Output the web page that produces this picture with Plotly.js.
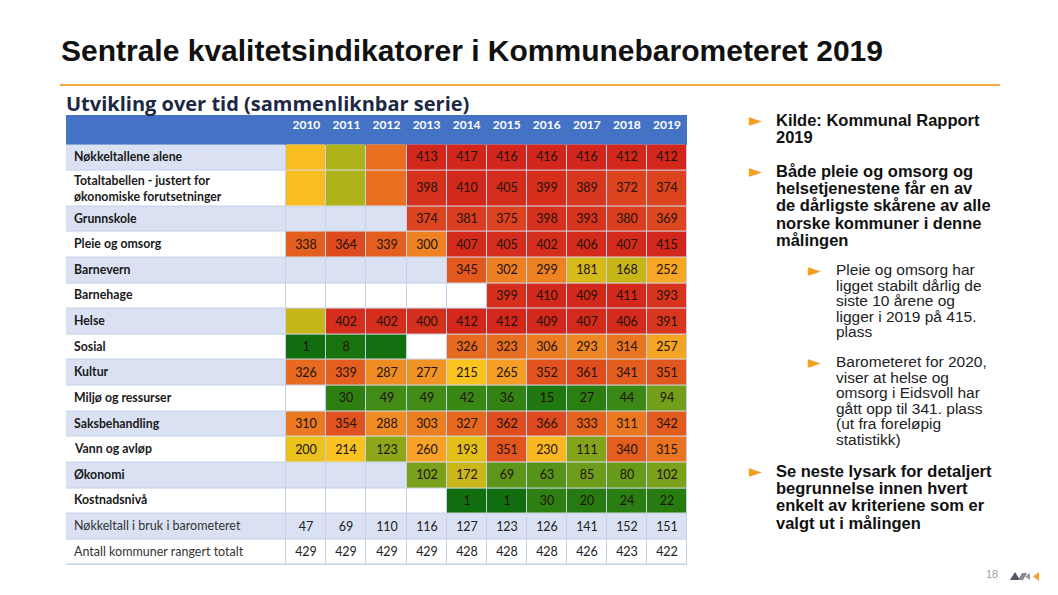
<!DOCTYPE html>
<html>
<head>
<meta charset="utf-8">
<script src="https://cdn.plot.ly/plotly-3.0.1.min.js"></script>
<style>html,body{margin:0;padding:0;background:#fff;}#chart{width:1058px;height:595px;}</style>
</head>
<body>
<div id="chart"></div>
<script>
// ---------------- DATA ----------------
const years = ['2010','2011','2012','2013','2014','2015','2016','2017','2018','2019'];
const rowLabels = [
  'Nøkkeltallene alene',
  'Totaltabellen - justert for<br>økonomiske forutsetninger',
  'Grunnskole',
  'Pleie og omsorg',
  'Barnevern',
  'Barnehage',
  'Helse',
  'Sosial',
  'Kultur',
  'Miljø og ressurser',
  'Saksbehandling',
  'Vann og avløp',
  'Økonomi',
  'Kostnadsnivå'
];
// ranks (placement among Norwegian municipalities); null = empty cell
const rankRows = [
  [null, null, null, 413, 417, 416, 416, 416, 412, 412],
  [null, null, null, 398, 410, 405, 399, 389, 372, 374],
  [null, null, null, 374, 381, 375, 398, 393, 380, 369],
  [338, 364, 339, 300, 407, 405, 402, 406, 407, 415],
  [null, null, null, null, 345, 302, 299, 181, 168, 252],
  [null, null, null, null, null, 399, 410, 409, 411, 393],
  [null, 402, 402, 400, 412, 412, 409, 407, 406, 391],
  [1, 8, null, null, 326, 323, 306, 293, 314, 257],
  [326, 339, 287, 277, 215, 265, 352, 361, 341, 351],
  [null, 30, 49, 49, 42, 36, 15, 27, 44, 94],
  [310, 354, 288, 303, 327, 362, 366, 333, 311, 342],
  [200, 214, 123, 260, 193, 351, 230, 111, 340, 315],
  [null, null, null, 102, 172, 69, 63, 85, 80, 102],
  [null, null, null, null, 1, 1, 30, 20, 24, 22]
];
// cells that are shaded but carry no printed number (rank estimated from the shade)
const shadedOnlyCells = [
  ['Nøkkeltallene alene', '2010', 225],
  ['Nøkkeltallene alene', '2011', 150],
  ['Nøkkeltallene alene', '2012', 320],
  ['Totaltabellen', '2010', 225],
  ['Totaltabellen', '2011', 150],
  ['Totaltabellen', '2012', 320],
  ['Helse', '2010', 168],
  ['Sosial', '2012', 3]
];
const footerLabels = ['Nøkkeltall i bruk i barometeret', 'Antall kommuner rangert totalt'];
const indicatorsInUse = [47, 69, 110, 116, 127, 123, 126, 141, 152, 151];
const municipalitiesRanked = [429, 429, 429, 429, 428, 428, 428, 426, 423, 422];

const pageTitle = 'Sentrale kvalitetsindikatorer i Kommunebarometeret 2019';
const tableTitle = 'Utvikling over tid (sammenliknbar serie)';
const bulletGroups = [
  {level: 1, lines: ['Kilde: Kommunal Rapport', '2019']},
  {level: 1, lines: ['Både pleie og omsorg og', 'helsetjenestene får en av', 'de dårligste skårene av alle', 'norske kommuner i denne', 'målingen']},
  {level: 2, lines: ['Pleie og omsorg har', 'ligget stabilt dårlig de', 'siste 10 årene og', 'ligger i 2019 på 415.', 'plass']},
  {level: 2, lines: ['Barometeret for 2020,', 'viser at helse og', 'omsorg i Eidsvoll har', 'gått opp til 341. plass', '(ut fra foreløpig', 'statistikk)']},
  {level: 1, lines: ['Se neste lysark for detaljert', 'begrunnelse innen hvert', 'enkelt av kriteriene som er', 'valgt ut i målingen']}
];
const pageNumber = '18';

// ---------------- STYLE / LAYOUT ----------------
const W = 1058, H = 595;
const X = px => px / W;
const Y = py => 1 - py / H;

const bandBlue = '#d9e1f2', bandWhite = '#ffffff', headerBlue = '#4472c4', gridColor = '#c4d1ea';
const numFont = 'Lato, Open Sans, sans-serif';

// rank -> colour ramp (green = best, red = worst)
const rampStops = [
  [0, '#0f6d0f'], [20, '#267b10'], [30, '#2d7f12'], [45, '#3c8916'], [65, '#58941a'],
  [85, '#6c9c1a'], [105, '#7ea21a'], [125, '#90a81a'], [150, '#b0b21a'], [170, '#c8b61a'],
  [195, '#e6c01a'], [215, '#f9c320'], [235, '#f9b422'], [260, '#f5a226'], [285, '#f08e24'],
  [305, '#ec7d22'], [325, '#e66b1f'], [345, '#e2591f'], [365, '#de4a1f'], [385, '#d93a1f'],
  [410, '#d3281c'], [430, '#d0221b']
];
const rankMax = 430;
const rankColorscale = rampStops.map(s => [s[0] / rankMax, s[1]]);

// geometry of the grid (column widths and row heights, in px-like units)
const labelColWidth = 220, yearColWidth = 40;
const headerHeight = 29.5, rowHeight = 25.6, tallRowHeight = 36;
const colWidths = [labelColWidth].concat(years.map(() => yearColWidth));
const xEdges = [0]; colWidths.forEach(w => xEdges.push(xEdges[xEdges.length-1] + w));
const allRowLabels = rowLabels.concat(footerLabels);
const rowHeights = allRowLabels.map(l => l.includes('<br>') ? tallRowHeight : rowHeight);
const yEdges = [headerHeight]; rowHeights.forEach(h => yEdges.push(yEdges[yEdges.length-1] + h));
const yTotal = yEdges[yEdges.length-1];
const colCenters = colWidths.map((w, i) => (xEdges[i] + xEdges[i+1]) / 2);
const rowCenters = rowHeights.map((h, i) => (yEdges[i] + yEdges[i+1]) / 2);

// background bands (0 = light blue, 1 = white) + footer numbers as text
const bandZ = allRowLabels.map((_, i) => colWidths.map(() => i % 2));
const bandText = allRowLabels.map((_, i) => colWidths.map((_, j) => {
  if (j === 0) return '';
  if (i === rowLabels.length) return String(indicatorsInUse[j-1]);
  if (i === rowLabels.length + 1) return String(municipalitiesRanked[j-1]);
  return '';
}));

// rank matrix (label column and footer rows stay empty)
const rankZ = [], rankText = [];
allRowLabels.forEach((lab, i) => {
  const zr = [null], tr = [''];
  years.forEach((yr, j) => {
    let v = i < rankRows.length ? rankRows[i][j] : null;
    const shaded = shadedOnlyCells.find(s => lab.startsWith(s[0]) && s[1] === yr);
    if (v !== null) { zr.push(v); tr.push(String(v)); }
    else if (shaded) { zr.push(shaded[2]); tr.push(''); }
    else { zr.push(null); tr.push(''); }
  });
  rankZ.push(zr); rankText.push(tr);
});

const traces = [
  { // header band
    type: 'heatmap', x: [0, xEdges[xEdges.length-1]], y: [0, headerHeight], z: [[1]],
    colorscale: [[0, headerBlue], [1, headerBlue]], showscale: false, hoverinfo: 'skip'
  },
  { // row bands
    type: 'heatmap', x: xEdges, y: yEdges, z: bandZ, zmin: 0, zmax: 1,
    colorscale: [[0, bandBlue], [0.5, bandBlue], [0.5, bandWhite], [1, bandWhite]],
    showscale: false, xgap: 1, ygap: 1, hoverinfo: 'skip',
    text: bandText, texttemplate: '%{text}', textfont: {family: numFont, size: 12.5, color: '#222222'}
  },
  { // rank cells
    type: 'heatmap', x: xEdges, y: yEdges, z: rankZ, zmin: 0, zmax: rankMax,
    colorscale: rankColorscale, showscale: false, xgap: 1, ygap: 1, hoverinfo: 'skip',
    text: rankText, texttemplate: '%{text}', textfont: {family: numFont, size: 12.5, color: '#24120a'}
  }
];

const annotations = [];
const shapes = [];
// row labels
allRowLabels.forEach((lab, i) => {
  const isFooter = i >= rowLabels.length;
  annotations.push({xref: 'x', yref: 'y', x: 0, y: rowCenters[i], xshift: 6, yshift: lab.includes('<br>') ? 0 : 1,
    xanchor: 'left', yanchor: 'middle', align: 'left', showarrow: false,
    text: isFooter ? lab : '<b>' + lab + '</b>',
    font: {family: numFont, size: isFooter ? 12.5 : 12.3, color: isFooter ? '#333333' : '#1a1a1a'}});
});

annotations.push({xref:'paper', yref:'paper', x: X(59), y: Y(50), xanchor:'left', yanchor:'middle', showarrow:false,
  text: '<b>' + pageTitle + '</b>', font:{family:'Liberation Sans, Arial, sans-serif', size: 30, color:'#111111'}});
shapes.push({type:'line', xref:'paper', yref:'paper', x0: X(60), x1: X(1000), y0: Y(85), y1: Y(85), line:{color:'#f2a93b', width:2}});
annotations.push({xref:'paper', yref:'paper', x: X(64), y: Y(103), xanchor:'left', yanchor:'middle', showarrow:false,
  text: '<b>' + tableTitle + '</b>', font:{family:'Open Sans, sans-serif', size: 20, color:'#1c2844', weight: 800}});

// bullet text placement (line-centre y of each group's first line)
const groupStartY = [120, 171, 270, 362, 471];
const levelStyle = {
  1: {bulletX: 756, textX: 774, lineH: 17.2, size: 16.5, bold: true, color: '#111111'},
  2: {bulletX: 815, textX: 834, lineH: 15.4, size: 15.5, bold: false, color: '#222222'}
};
bulletGroups.forEach((g, gi) => {
  const st = levelStyle[g.level];
  annotations.push({xref:'paper', yref:'paper', x: X(st.bulletX), y: Y(groupStartY[gi]), xanchor:'center', yanchor:'middle', showarrow:false,
    text: '►', font:{family:'DejaVu Sans, sans-serif', size: 17, color:'#f5a01c'}});
  g.lines.forEach((ln, li) => {
    annotations.push({xref:'paper', yref:'paper', x: X(st.textX), y: Y(groupStartY[gi] + li * st.lineH), xanchor:'left', yanchor:'middle', showarrow:false,
      text: st.bold ? '<b>' + ln + '</b>' : ln, font:{family:'Liberation Sans, Arial, sans-serif', size: st.size, color: st.color}});
  });
});
annotations.push({xref:'paper', yref:'paper', x: X(992), y: Y(574), xanchor:'center', yanchor:'middle', showarrow:false,
  text: pageNumber, font:{family:'Liberation Sans, Arial, sans-serif', size: 11, color:'#a0a0a0'}});
// small logo
shapes.push({type:'path', xref:'paper', yref:'paper', path: `M ${X(1010)},${Y(580)} L ${X(1015)},${Y(572)} L ${X(1020)},${Y(580)} Z`, fillcolor:'#555566', line:{width:0}});
shapes.push({type:'path', xref:'paper', yref:'paper', path: `M ${X(1018)},${Y(580)} L ${X(1022)},${Y(573)} L ${X(1027)},${Y(573)} L ${X(1023)},${Y(580)} Z`, fillcolor:'#888899', line:{width:0}});
shapes.push({type:'path', xref:'paper', yref:'paper', path: `M ${X(1025)},${Y(576.5)} L ${X(1030)},${Y(573)} L ${X(1030)},${Y(580)} Z`, fillcolor:'#999999', line:{width:0}});
shapes.push({type:'path', xref:'paper', yref:'paper', path: `M ${X(1033)},${Y(576.5)} L ${X(1039)},${Y(572)} L ${X(1039)},${Y(581)} Z`, fillcolor:'#f0a030', line:{width:0}});

const layout = {
  width: W, height: H,
  margin: {l:0, r:0, t:0, b:0},
  paper_bgcolor: '#ffffff',
  plot_bgcolor: gridColor,
  showlegend: false,
  xaxis: {
    domain: [X(66), X(687)], range: [0, xEdges[xEdges.length-1]], side: 'top',
    tickmode: 'array', tickvals: colCenters.slice(1), ticktext: years,
    ticklabelposition: 'inside', ticks: '', ticklabelstandoff: 3,
    tickfont: {family: numFont, size: 12, color: '#ffffff', weight: 700},
    showgrid: false, zeroline: false, showline: false, fixedrange: true
  },
  yaxis: {
    domain: [Y(565), Y(115)], range: [yTotal, 0],
    showticklabels: false, ticks: '', showgrid: false, zeroline: false, showline: false, fixedrange: true
  },
  annotations: annotations,
  shapes: shapes
};
Plotly.newPlot('chart', traces, layout, {displayModeBar: false, staticPlot: true});
</script>
</body>
</html>
